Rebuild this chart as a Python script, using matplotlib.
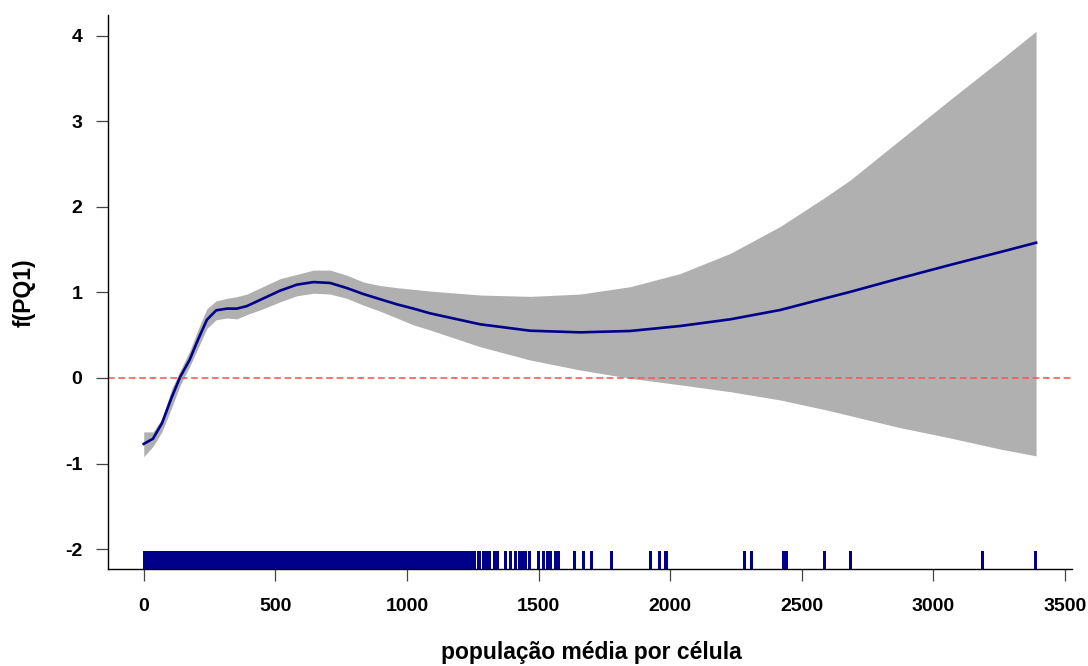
import matplotlib
matplotlib.use("Agg")
import matplotlib.pyplot as plt

plt.rcParams["font.family"] = ["Liberation Sans", "DejaVu Sans"]
plt.rcParams["font.weight"] = "bold"

# suavização estimada f(PQ1) e banda de confiança
pop = [0, 35, 69, 107, 139, 174, 208, 240, 275, 316, 354, 392, 455, 518, 582,
       645, 708, 772, 835, 898, 962, 1025, 1088, 1278, 1468, 1658, 1848, 2038,
       2228, 2418, 2588, 2683, 2873, 3063, 3253, 3390]
ajuste = [-0.77, -0.71, -0.53, -0.22, 0.015, 0.21, 0.46, 0.68, 0.79, 0.81, 0.81,
          0.84, 0.93, 1.02, 1.09, 1.12, 1.11, 1.05, 0.98, 0.92, 0.86, 0.81, 0.755,
          0.627, 0.552, 0.533, 0.549, 0.607, 0.685, 0.794, 0.93, 1.005, 1.165,
          1.32, 1.47, 1.58]
superior = [-0.63, -0.63, -0.48, -0.12, 0.09, 0.31, 0.58, 0.81, 0.90, 0.93, 0.95,
            0.98, 1.07, 1.16, 1.21, 1.26, 1.26, 1.20, 1.12, 1.08, 1.055, 1.035,
            1.015, 0.969, 0.953, 0.98, 1.066, 1.22, 1.455, 1.77, 2.11, 2.31, 2.78,
            3.25, 3.71, 4.05]
inferior = [-0.92, -0.80, -0.63, -0.34, -0.08, 0.13, 0.36, 0.58, 0.68, 0.70, 0.69,
            0.74, 0.81, 0.89, 0.96, 0.99, 0.98, 0.93, 0.85, 0.78, 0.70, 0.62, 0.56,
            0.365, 0.21, 0.093, -0.004, -0.08, -0.16, -0.257, -0.37, -0.44, -0.58,
            -0.70, -0.83, -0.91]

# observações (rug)
obs = [0, 2, 6, 11, 17, 22, 28, 35, 41, 46, 52, 59, 64, 70, 77, 83, 88, 95, 101,
       107, 113, 120, 126, 131, 138, 144, 150, 157, 163, 168, 175, 181, 187, 194,
       199, 205, 212, 218, 224, 231, 236, 243, 249, 255, 262, 268, 273, 280, 286,
       292, 299, 305, 310, 317, 323, 329, 336, 342, 347, 354, 360, 366, 373, 379,
       384, 391, 397, 403, 410, 416, 421, 428, 434, 440, 447, 453, 458, 465, 471,
       477, 484, 490, 495, 502, 508, 514, 521, 527, 532, 539, 545, 551, 558, 564,
       569, 576, 582, 588, 595, 601, 606, 613, 619, 625, 632, 638, 643, 650, 656,
       662, 669, 675, 680, 687, 693, 699, 706, 712, 717, 724, 730, 736, 743, 749,
       754, 761, 767, 773, 780, 786, 791, 798, 804, 810, 817, 823, 828, 835, 841,
       847, 854, 860, 865, 872, 878, 884, 891, 897, 902, 909, 915, 921, 928, 934,
       939, 946, 952, 958, 965, 971, 976, 983, 989, 995, 1002, 1008, 1013, 1020,
       1026, 1032, 1039, 1045, 1050, 1057, 1063, 1069, 1076, 1082, 1087, 1094,
       1100, 1106, 1113, 1119, 1124, 1131, 1140, 1149, 1156, 1165, 1172, 1183,
       1190, 1202, 1210, 1218, 1229, 1236, 1247, 1255, 1268, 1275, 1289, 1296,
       1303, 1313, 1329, 1341, 1371, 1392, 1410, 1424, 1436, 1449, 1464, 1498,
       1518, 1531, 1543, 1561, 1572, 1634, 1667, 1698, 1774, 1924, 1959, 1979,
       1984, 2279, 2307, 2427, 2441, 2585, 2684, 3186, 3387]

xticks = [0, 500, 1000, 1500, 2000, 2500, 3000, 3500]
yticks = [-2, -1, 0, 1, 2, 3, 4]

fig = plt.figure(figsize=(10.88, 6.66), dpi=100)
ax = fig.add_axes([0.0993, 0.1457, 0.8858, 0.8318])

ax.fill_between(pop, inferior, superior, color="#b0b0b0", lw=0)
ax.plot(pop, ajuste, color="#00008b", lw=1.9, solid_joinstyle="round")
ax.axhline(0, color="#ff5050", lw=1.1, ls=(0, (4.4, 2.4)))
ax.vlines(obs, 0, 0.032, transform=ax.get_xaxis_transform(),
          color="#00008b", lw=2.0, capstyle="butt", antialiased=False)

ax.set_xlim(-135.6, 3525.6)
ax.set_ylim(-2.231, 4.24)
ax.set_xticks(xticks)
ax.set_yticks(yticks)
ax.set_xticklabels([str(t) for t in xticks])
ax.set_yticklabels([str(t) for t in yticks])

for s in ["top", "right"]:
    ax.spines[s].set_visible(False)
for s in ["left", "bottom"]:
    ax.spines[s].set_linewidth(1.0)
ax.tick_params(direction="out", length=8.5, width=0.9, color="#444444",
               labelsize=14)
ax.tick_params(axis="x", pad=12.5)
ax.tick_params(axis="y", pad=10)
for lab in ax.get_xticklabels() + ax.get_yticklabels():
    lab.set_fontweight("bold")

fig.text(591 / 1088, 1 - 653 / 666, "população média por célula", ha="center",
         va="center", fontsize=16.5, fontweight="bold")
fig.text(24 / 1088, 1 - 293 / 666, "f(PQ1)", ha="center", va="center",
         rotation=90, fontsize=16.5, fontweight="bold")

fig.savefig("out.png", dpi=100)
